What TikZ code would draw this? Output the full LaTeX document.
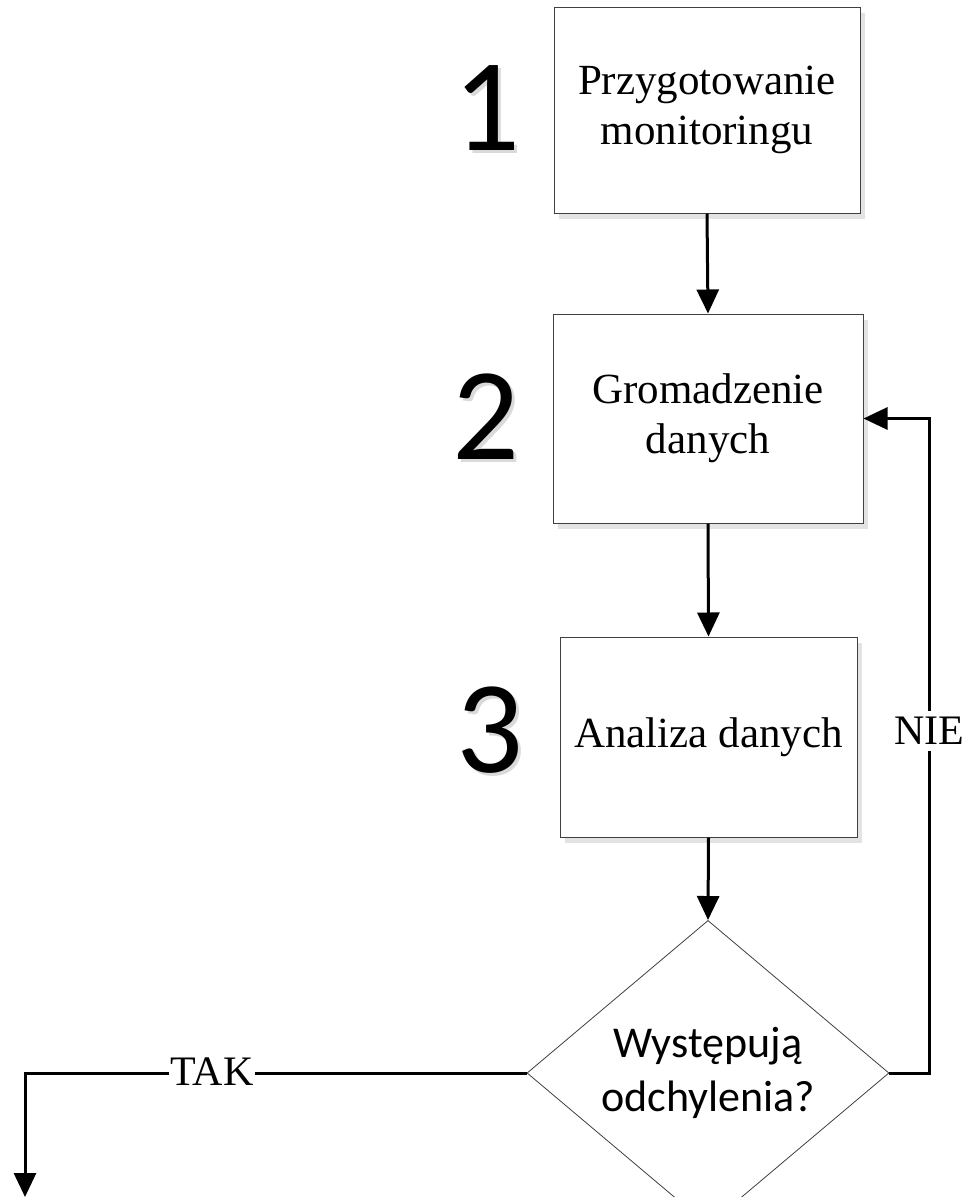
\documentclass[tikz,border=0pt]{standalone}
\usepackage{fontspec}
\setmainfont{Liberation Serif}
\newfontfamily\calfont{Carlito}
\usetikzlibrary{shapes.geometric,arrows.meta}
\definecolor{boxline}{HTML}{404040}
\definecolor{boxshadow}{HTML}{E3E3E3}
\definecolor{numshadow}{HTML}{DADADA}
\tikzset{
  stepbox/.style={draw=boxline, line width=1pt, fill=white, align=center,
    inner sep=0pt, font=\fontsize{43}{50}\selectfont},
  shadowbox/.style={fill=boxshadow, draw=none, inner sep=0pt},
  decision/.style={diamond, draw=boxline, line width=0.8pt, fill=white,
    inner sep=0pt, minimum width=362pt, minimum height=246pt, align=center,
    font=\calfont\fontsize{44}{54}\selectfont},
  flow/.style={line width=3pt, -{Triangle[length=24pt,width=22pt]}},
  lbl/.style={fill=white, inner xsep=2pt, inner ysep=6pt,
    font=\fontsize{42}{48}\selectfont},
  stepnum/.style={font=\calfont\fontsize{132}{132}\selectfont, inner sep=0pt},
  stepnumshadow/.style={stepnum, text=numshadow},
}
\begin{document}
\begin{tikzpicture}[x=1pt,y=-1pt]
  \useasboundingbox[fill=white] (0,0) rectangle (965,1197);

  % soft shadows under the process boxes
  \node[shadowbox, minimum width=306pt, minimum height=206pt] at (712,116) {};
  \node[shadowbox, minimum width=310pt, minimum height=209pt] at (713,424.5) {};
  \node[shadowbox, minimum width=297pt, minimum height=200pt] at (713.5,743) {};

  % process steps
  \node[stepbox, minimum width=306pt, minimum height=206pt] (b1) at (707,110)
    {Przygotowanie\\monitoringu};
  \node[stepbox, minimum width=310pt, minimum height=209pt] (b2) at (708,418.5)
    {Gromadzenie\\danych};
  \node[stepbox, minimum width=297pt, minimum height=200pt] (b3) at (708.5,737)
    {Analiza danych};

  % decision
  \node[decision] (dec) at (708,1073) {Występują\\odchylenia?};

  % step numbers with drop shadow
  \node[stepnumshadow] at (490,111) {1};
  \node[stepnum] (n1) at (487,108) {1};
  \node[stepnumshadow] at (489,420) {2};
  \node[stepnum] (n2) at (486,417) {2};
  \node[stepnumshadow] at (493,733) {3};
  \node[stepnum] (n3) at (490,730) {3};

  % main flow
  \draw[flow] (b1.south) -- (b2.north);
  \draw[flow] (b2.south) -- (b3.north);
  \draw[flow] (b3.south) -- (dec.north);

  % NIE: back to data collection
  \coordinate (nieTurn) at (929,418.5);
  \draw[flow] (dec.east) -| (nieTurn) -- (b2.east);
  \node[lbl] (nie) at (929,731) {NIE};

  % TAK: leave the loop
  \coordinate (takEnd) at (25,1197);
  \draw[flow] (dec.west) -| (takEnd);
  \node[lbl] (tak) at (212,1072) {TAK};
\end{tikzpicture}
\end{document}
